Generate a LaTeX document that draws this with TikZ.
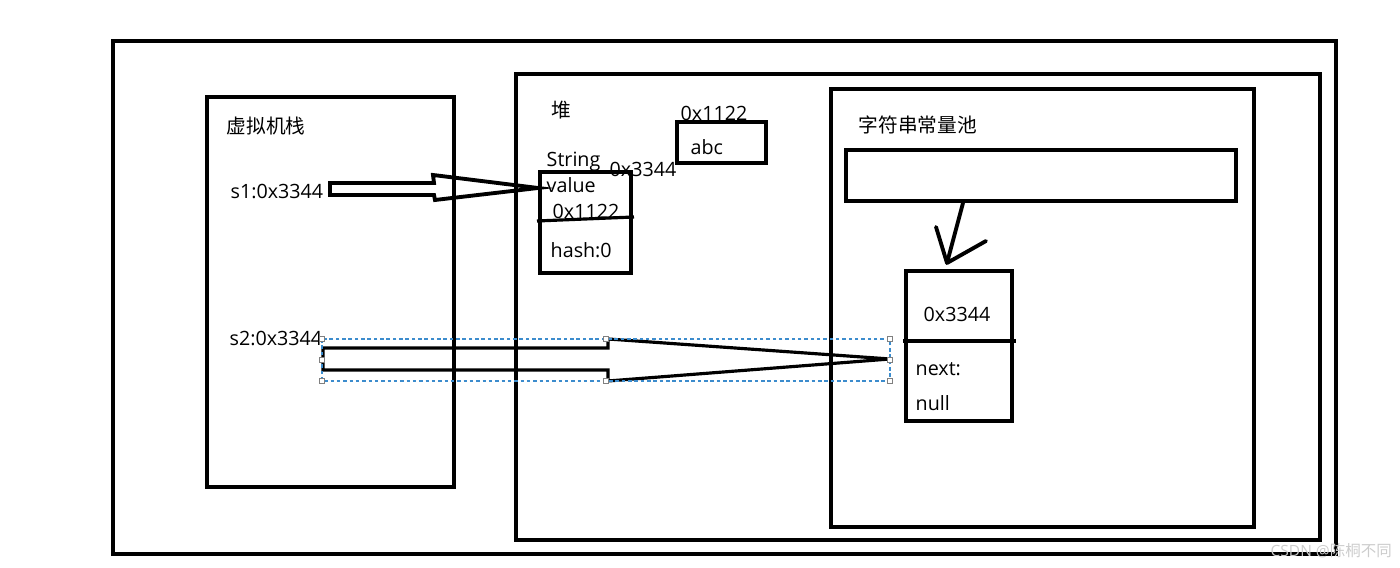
\documentclass[tikz,border=0pt]{standalone}
\usepackage{fontspec}
\setmainfont{Open Sans}
\newfontfamily\cjk{Noto Sans CJK SC}
\usepackage{tikz}
\usetikzlibrary{calc,positioning}

\definecolor{selblue}{RGB}{60,140,205}

\tikzset{
  box/.style={draw=black, line width=0.9pt},
  lbl/.style={inner sep=0pt, anchor=west, font=\fontsize{5.6}{6.7}\selectfont},
  blockarr/.style={draw=black, line width=0.9pt, line join=miter},
  handle/.style={draw=gray, fill=white, line width=0.2pt, minimum size=1.4pt, inner sep=0pt},
}

\begin{document}
\begin{tikzpicture}[x=0.01cm, y=-0.01cm]
\useasboundingbox (0,0) rectangle (1400,568);

% Frames
\draw[box, line width=1pt] (113,41) rectangle (1336,554);
\draw[box] (207,97) rectangle (454,487);
\draw[box] (516,74) rectangle (1320,540);
\draw[box] (831,89) rectangle (1254,527);

% Stack
\node[lbl] (stack) at (226,126) {\cjk 虚拟机栈};
\node[lbl] (s1) at (230,192) {s1:0x3344};
\node[lbl] (s2) at (229,339) {s2:0x3344};

% Heap
\node[lbl] (heap) at (551,110) {\cjk 堆};
\node[lbl] (abcaddr) at (680,113) {0x1122};
\draw[box] (677,122) rectangle (766,163);
\node[lbl] (abc) at (690,147) {abc};

\node[lbl] (strname) at (546,162) {String};
\node[lbl] (straddr) at (609,169) {0x3344};
\draw[box] (540,172) rectangle (631,273);
\draw[box] (537,221) -- (634,217);
\node[lbl] (value) at (546,185) {value};
\node[lbl] (valaddr) at (552,211) {0x1122};
\node[lbl] (hash) at (550,250) {hash:0};

% String pool
\node[lbl] (pool) at (858,125) {\cjk 字符串常量池};
\draw[box] (846,150) rectangle (1236,201);
\draw[box] (906,271) rectangle (1012,421);
\draw[box] (903,341) -- (1016,341);
\node[lbl] (entry) at (923,314) {0x3344};
\node[lbl] (next) at (915,369) {next:};
\node[lbl] (null) at (915,403) {null};

% Pool arrow (hand drawn)
\coordinate (bar) at (963,203);
\coordinate (entrytop) at (947,263);
\draw[box, line width=1.1pt, line cap=round, line join=round]
  (bar) -- (entrytop) (936,227) -- (entrytop) -- (986,241);

% s1 -> String
\coordinate (s1tail) at (330,189);
\coordinate (s1tip) at (538,188);
\draw[blockarr, line width=1.1pt] ($(s1tail)+(0,-6)$) -- ++(104,0) -- ++(-1,-8) -- (s1tip)
  -- ++(-103,12) -- ++(-1,-5) -- ++(-104,0) -- cycle;

% s2 -> pool entry
\coordinate (s2tail) at (323,359);
\coordinate (s2tip) at (890,359);
\draw[blockarr] ($(s2tail)+(0,-11)$) -- ++(285,0) -- ++(0,-9) -- (s2tip)
  -- ++(-282,22) -- ++(0,-11) -- ++(-285,0) -- cycle;

% Selection frame
\draw[selblue, dash pattern=on 1pt off 0.8pt, line width=0.35pt] (322,339) rectangle (890,381);
\foreach \p in {(322,339),(606,339),(890,339),(322,360),(890,360),(322,381),(606,381),(890,381)}
  \node[handle] at \p {};

% Watermark
\node[lbl, text=gray!40, font=\fontsize{4.4}{5}\selectfont] (mark) at (1270,551) {CSDN @\cjk 陈桐不同};
\end{tikzpicture}
\end{document}
